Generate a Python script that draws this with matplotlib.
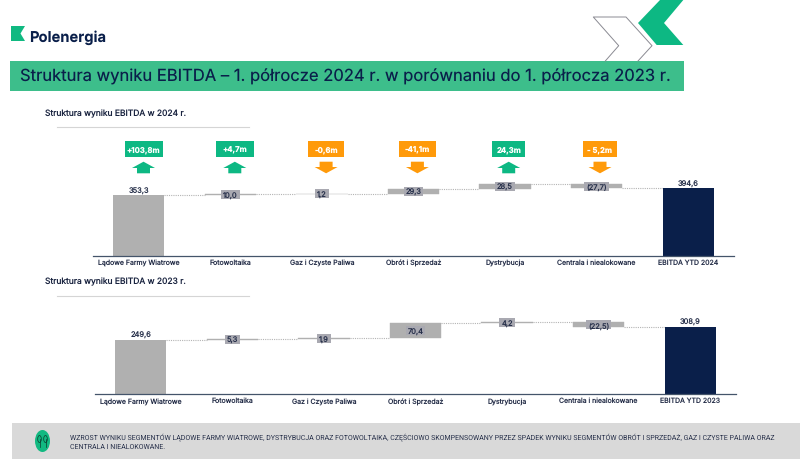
import matplotlib
matplotlib.use('Agg')
import matplotlib.pyplot as plt
from matplotlib.patches import Polygon, Rectangle, Ellipse

plt.rcParams['font.family'] = ['Inter', 'DejaVu Sans']
plt.rcParams['text.hinting'] = 'no_hinting'
plt.rcParams['text.hinting_factor'] = 1

categories_2024 = ['Lądowe Farmy Wiatrowe', 'Fotowoltaika', 'Gaz i Czyste Paliwa', 'Obrót i Sprzedaż',
                   'Dystrybucja', 'Centrala i niealokowane', 'EBITDA YTD 2024']
categories_2023 = ['Lądowe Farmy Wiatrowe', 'Fotowoltaika', 'Gaz i Czyste Paliwa', 'Obrót i Sprzedaż',
                   'Dystrybucja', 'Centrala i niealokowane', 'EBITDA YTD 2023']
values_2024 = [353.3, 10.0, 1.2, 29.3, 28.5, -27.7, 394.6]
values_2023 = [249.6, 5.3, 1.9, 70.4, 4.2, -22.5, 308.9]
labels_2024 = ['353,3', '10,0', '1,2', '29,3', '28,5', '(27,7)', '394,6']
labels_2023 = ['249,6', '5,3', '1,9', '70,4', '4,2', '(22,5)', '308,9']
badges = ['+103,8m', '+4,7m', '-0,6m', '-41,1m', '24,3m', '- 5,2m']
badge_up = [True, True, False, False, True, False]

title = 'Struktura wyniku EBITDA – 1. półrocze 2024 r. w porównaniu do 1. półrocza 2023 r.'
sub_2024 = 'Struktura wyniku EBITDA w 2024 r.'
sub_2023 = 'Struktura wyniku EBITDA w 2023 r.'
note = ('WZROST WYNIKU SEGMENTÓW LĄDOWE FARMY WIATROWE, DYSTRYBUCJA ORAZ FOTOWOLTAIKA, CZĘŚCIOWO SKOMPENSOWANY PRZEZ SPADEK WYNIKU SEGMENTÓW OBRÓT I SPRZEDAŻ, GAZ I CZYSTE PALIWA ORAZ\n'
        'CENTRALA I NIEALOKOWANE.')

NAVY = '#0A1F4A'
GREY = '#B0B0B0'
GREEN = '#0DB883'
ORANGE = '#FF9A0A'
W, H = 800, 460

fig = plt.figure(figsize=(8, 4.6), dpi=100)

# page furniture, in pixel coords
bg = fig.add_axes([0, 0, 1, 1])
bg.set_xlim(0, W)
bg.set_ylim(H, 0)
bg.axis('off')

bg.add_patch(Polygon([(11, 27), (25, 27), (20.5, 34.5), (25, 42), (11, 42)], color='#10B981', lw=0))
bg.text(29.5, 42, 'Polenergia', color=NAVY, fontsize=10.6, fontweight='bold', va='baseline')

bg.add_patch(Polygon([(660, 1), (683.3, 1), (664, 24), (683.3, 46), (656.7, 46), (638, 24)], color='#0DB883', lw=0))
bg.plot([605.3, 618.7, 593.3, 626, 652, 638], [62, 46.7, 18, 18, 46.7, 62], color='#8A8A92', lw=0.7)

bg.add_patch(Rectangle((9.5, 62), 674.5, 29.5, color='#3DBE8B', lw=0))
bg.text(20, 77, title, color=NAVY, fontsize=11.95, va='center')

bg.text(45, 113.5, sub_2024, color='#1A2440', fontsize=6.1, va='center')
bg.plot([57, 249], [128, 128], color='#D5D5D5', lw=0.8)
bg.text(45, 282, sub_2023, color='#1A2440', fontsize=6.1, va='center')
bg.plot([57, 249], [297, 297], color='#D5D5D5', lw=0.8)

bg.add_patch(Rectangle((12, 424), 788, 36, color='#D9D9D9', lw=0))
bg.add_patch(Ellipse((42.5, 442), 15, 22, color='#12B981', lw=0))
for tx in (39.5, 45.5):
    bg.add_patch(Ellipse((tx, 440), 3.6, 7, fc='none', ec='#0B3B2E', lw=0.5))
    bg.plot([tx, tx], [440, 448], color='#0B3B2E', lw=0.5)
bg.text(70, 437, note.split('\n')[0], color='#27304A', fontsize=5.1, family='Roboto', va='center')
bg.text(70, 447, note.split('\n')[1], color='#27304A', fontsize=5.1, family='Roboto', va='center')


def waterfall(cats, vals, labs, x0, x1, base_px, scale, top_px):
    ax = fig.add_axes([x0 / W, 1 - base_px / H, (x1 - x0) / W, (base_px - top_px) / H])
    ax.patch.set_alpha(0)
    ax.set_xlim(-0.5, 6.5)
    ax.set_ylim(0, (base_px - top_px) / scale)
    for s in ('top', 'left', 'right'):
        ax.spines[s].set_visible(False)
    ax.spines['bottom'].set_color('#44546A')
    ax.spines['bottom'].set_linewidth(0.9)
    ax.set_yticks([])
    ax.set_xticks(range(len(cats)))
    ax.set_xticklabels(cats, fontsize=5.0, color='#27304A', va='baseline')
    ax.tick_params(axis='x', length=0, pad=6.0)
    # this one sits too high with baseline alignment
    for lbl in ax.get_xticklabels():
        if 'ż' in lbl.get_text():
            lbl.set_y(-1.0 / (base_px - top_px))

    bw = 0.56
    px_x = (x1 - x0) / 7
    level = 0
    rend = fig.canvas.get_renderer()
    for i, v in enumerate(vals):
        if i == 0:
            bot, top = 0, v
            level = v
            col = GREY
        elif i == len(vals) - 1:
            bot, top = 0, v
            col = NAVY
        else:
            bot, top = min(level, level + v), max(level, level + v)
            col = GREY
        ax.bar(i, top - bot, bw, bottom=bot, color=col, ec=col, lw=0.3 if 0 < i < 6 else 0)
        if i in (0, len(vals) - 1):
            ax.text(i, top + 1.5 / scale, labs[i], ha='center', va='bottom', fontsize=5.4, color='#27304A')
        else:
            mid = (top + bot) / 2
            t = ax.text(i, mid, labs[i], ha='center', va='center_baseline', fontsize=5.4, color='#27304A', zorder=4)
            chip_w = (t.get_window_extent(rend).width + 4) / px_x
            ax.add_patch(Rectangle((i - chip_w / 2, mid - 4.5 / scale), chip_w, 9 / scale, fc='#A9A9B1', ec='none', zorder=3))
        if i < len(vals) - 1:
            if i > 0:
                level += v
            ax.plot([i + bw / 2, i + 1 - bw / 2], [level, level], color='#B4B4B4', lw=0.8, ls=(0, (1, 1)), zorder=1)
    return ax


waterfall(categories_2024, values_2024, labels_2024, 93, 734, 256.5, 0.17, 170)
waterfall(categories_2023, values_2023, labels_2023, 95, 736, 394.8, 0.2165, 310)

# change badges + arrows over the top chart
for i, (txt, up) in enumerate(zip(badges, badge_up)):
    cx = 143.5 + i * 91.3
    col = GREEN if up else ORANGE
    bg.text(cx, 150.3, txt, color='white', fontsize=5.6, fontweight='bold', ha='center', va='center', zorder=5)
    bw = 38 if i < 2 else (36.5 if i < 4 else 33.4)
    bg.add_patch(Rectangle((cx - bw / 2, 142.3), bw, 16, color=col, lw=0, zorder=4))
    t, m, b = (162.7, 169, 174.3) if up else (174.3, 168, 162.7)
    bg.add_patch(Polygon([(cx, t), (cx + 11.5, m), (cx + 6.5, m), (cx + 6.5, b),
                          (cx - 6.5, b), (cx - 6.5, m), (cx - 11.5, m)], color=col, lw=0, zorder=4))

fig.savefig('out.png', dpi=100)
